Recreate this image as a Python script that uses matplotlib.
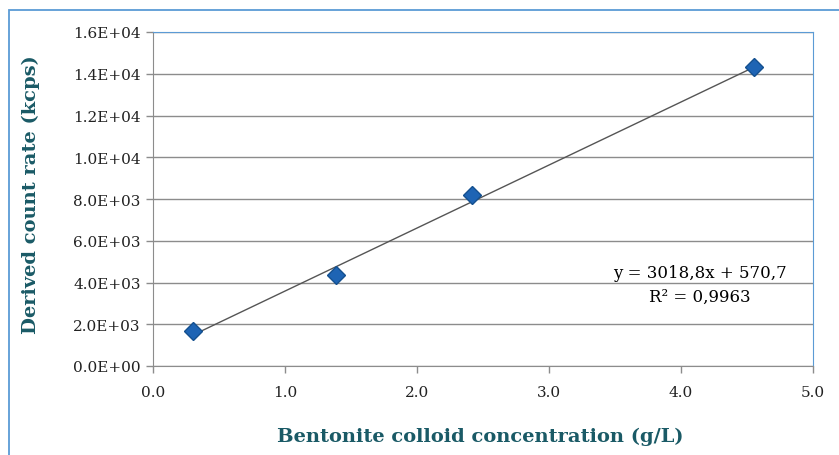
import matplotlib.pyplot as plt
from matplotlib.patches import Rectangle

conc = [0.3, 1.39, 2.42, 4.55]
rate = [1680, 4360, 8190, 14330]
slope = 3018.8
intercept = 570.7
r2_text = "R² = 0,9963"
eq_text = "y = 3018,8x + 570,7"

yticks = [0, 2000, 4000, 6000, 8000, 10000, 12000, 14000, 16000]
ytick_labels = ["0.0E+00", "2.0E+03", "4.0E+03", "6.0E+03", "8.0E+03",
                "1.0E+04", "1.2E+04", "1.4E+04", "1.6E+04"]
xticks = [0, 1, 2, 3, 4, 5]
xtick_labels = ["0.0", "1.0", "2.0", "3.0", "4.0", "5.0"]

plt.rcParams['font.family'] = ['DejaVu Serif']
teal = '#1a5a66'
W, H = 839, 456

fig = plt.figure(figsize=(W / 100, H / 100), dpi=100)
ax = fig.add_axes([153 / W, 1 - 367 / H, (813 - 153) / W, (367 - 33) / H])

# outer chart frame (cropped on right and bottom)
fig.patches.append(Rectangle((9 / W, -0.1), 1.2, 1 - 11 / H + 0.1,
                             transform=fig.transFigure, fill=False,
                             edgecolor='#5b9bd5', linewidth=1.3))

ax.set_xlim(0, 5)
ax.set_ylim(0, 16000)
ax.set_yticks(yticks)
ax.set_yticklabels(ytick_labels)
ax.set_xticks(xticks)
ax.set_xticklabels(xtick_labels)
ax.grid(axis='y', color='#8c8c8c', linewidth=1)
ax.set_axisbelow(True)

for s in ['top', 'right']:
    ax.spines[s].set_color('#5b9bd5')
for s in ['left', 'bottom']:
    ax.spines[s].set_color('#8c8c8c')
ax.tick_params(axis='both', colors='#8c8c8c', labelcolor='#222222',
               labelsize=11, length=5, width=1)
ax.tick_params(axis='x', pad=9)
ax.tick_params(axis='y', pad=4)

# trend line
x0, x1 = min(conc), max(conc)
ax.plot([x0, x1], [slope * x0 + intercept, slope * x1 + intercept],
        color='#555555', linewidth=1)
ax.plot(conc, rate, linestyle='none', marker='D', markersize=9.5,
        markerfacecolor='#1e64b4', markeredgecolor='#14508f', markeredgewidth=1)

fig.text(700 / W, 1 - 273 / H, eq_text, fontsize=12, ha='center', va='center')
fig.text(700 / W, 1 - 297 / H, r2_text, fontsize=12, ha='center', va='center')

fig.text(480 / W, 1 - 437 / H, "Bentonite colloid concentration (g/L)",
         fontsize=14, fontweight='bold', color=teal, ha='center', va='center')
fig.text(31 / W, 1 - 195 / H, "Derived count rate (kcps)", rotation=90,
         fontsize=14, fontweight='bold', color=teal, ha='center', va='center')

fig.savefig('out.png', dpi=100)
